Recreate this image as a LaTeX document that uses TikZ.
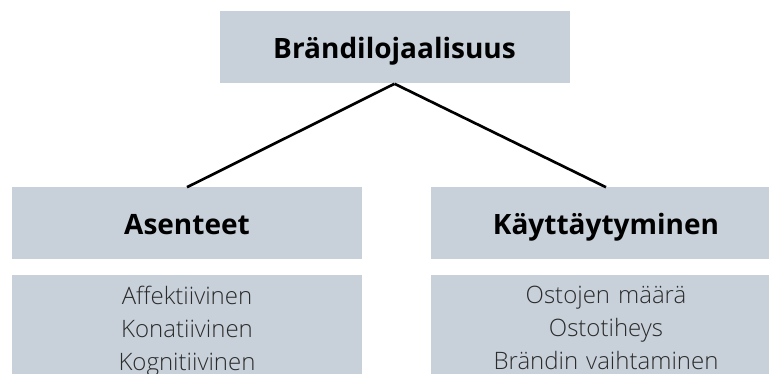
\documentclass[tikz,border=0pt]{standalone}
\usepackage{fontspec}
\setmainfont{Open Sans}
\newfontfamily\lightfont{Open Sans Light}
\usetikzlibrary{positioning}
\definecolor{boxgray}{HTML}{C8D1DA}
\definecolor{listgray}{HTML}{2B2B2B}
\tikzset{
  hdrbox/.style={ fill=boxgray, minimum width=262.5pt, minimum height=54pt, inner sep=0pt, text height=16pt, text depth=0pt, font=\bfseries\fontsize{21}{25}\selectfont }
}
\tikzset{
  listbox/.style={ fill=boxgray, anchor=north, text width=262.5pt, align=center, inner xsep=0pt, inner ysep=8pt, text=listgray, font=\lightfont\fontsize{18}{24.75}\selectfont }
}

\begin{document}
\begin{tikzpicture}[x=0.75pt, y=-0.75pt]
      \useasboundingbox (0,0) rectangle (769,374);
      \node[hdrbox] (lojaal) at (394.5, 47.5) {Brändilojaalisuus};

      \node[hdrbox] (asent) at (187, 223.5) {Asenteet};
      \node[listbox] (asentlist) at (187, 275) {Affektiivinen\\Konatiivinen\\Kognitiivinen};

      \node[hdrbox] (kaytt) at (606, 223.5) {Käyttäytyminen};
      \node[listbox] (kayttlist) at (606, 275) {Ostojen määrä\\Ostotiheys\\Brändin vaihtaminen};

      \draw[line width=2pt] (lojaal.south) -- (asent.north);
      \draw[line width=2pt] (lojaal.south) -- (kaytt.north);
\end{tikzpicture}
\end{document}
